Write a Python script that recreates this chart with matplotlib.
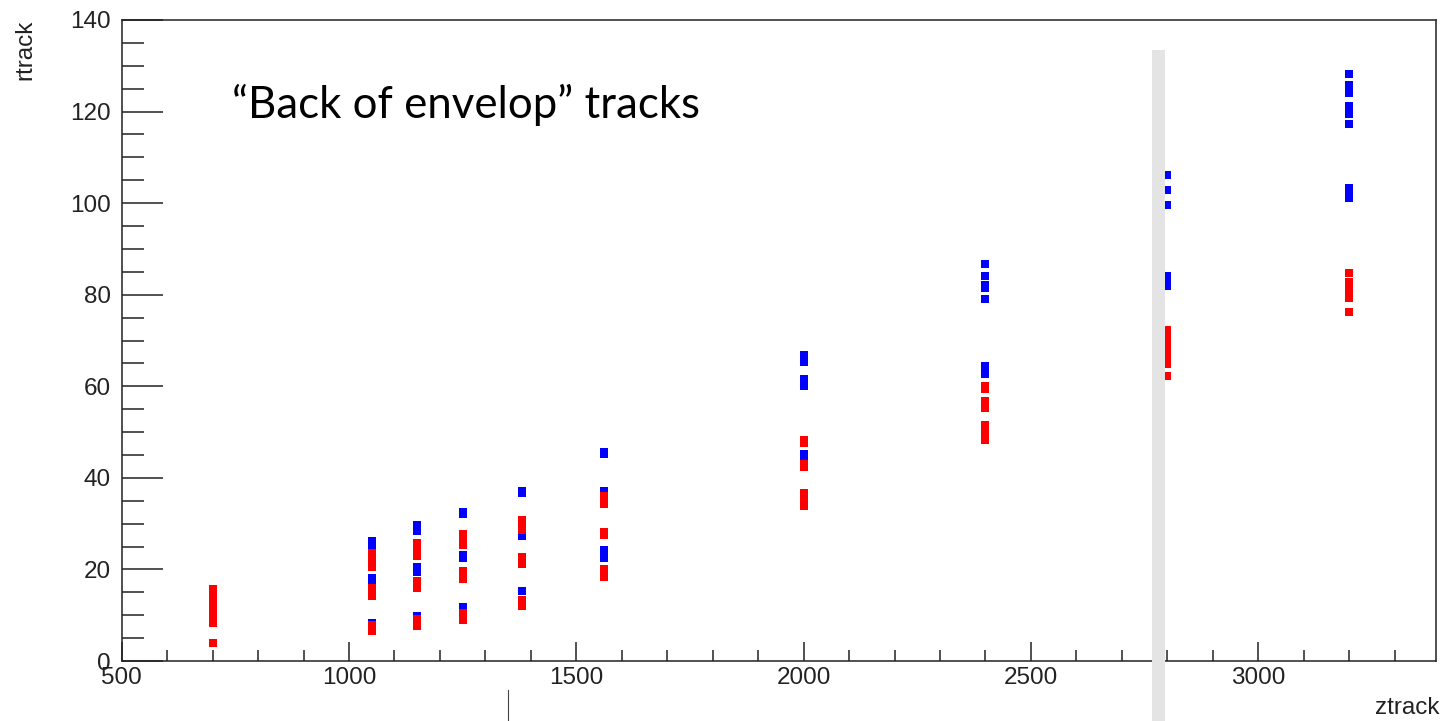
import matplotlib
matplotlib.use("Agg")
import matplotlib.pyplot as plt
from matplotlib.patches import Rectangle
from matplotlib.lines import Line2D
from matplotlib.ticker import MultipleLocator

# z positions of the track columns
z_cols = [700, 1050, 1150, 1250, 1380, 1560, 2000, 2400, 2800, 3200]

# r values per column (blue points)
blue_r = [
    [],
    [26.2, 25.1, 18.2, 17.5, 8.3],
    [29.7, 28.3, 20.5, 19.4, 9.8],
    [32.6, 32.0, 23.1, 22.4, 11.7],
    [37.2, 36.8, 27.2, 15.3],
    [45.6, 45.3, 37.2, 24.2, 23.2, 22.4],
    [66.8, 65.3, 61.6, 60.1, 45.2, 44.7],
    [86.6, 84.1, 82.2, 81.4, 79.1, 64.5, 63.5, 62.7],
    [106.1, 102.8, 99.6, 84.0, 83.0, 81.9],
    [128.3, 125.7, 125.0, 124.0, 121.3, 120.4, 119.5, 117.2, 103.2, 102.2, 101.1],
]

# r values per column (red points)
red_r = [
    [15.7, 14.5, 12.8, 11.2, 9.6, 8.2, 4.0],
    [23.5, 22.1, 20.6, 16.0, 14.3, 7.9, 6.5],
    [25.7, 24.3, 23.0, 17.5, 16.0, 9.1, 7.6],
    [27.8, 26.6, 25.4, 19.7, 17.9, 10.5, 9.0],
    [30.7, 29.5, 28.6, 22.7, 21.2, 13.4, 12.0],
    [36.0, 34.2, 28.2, 27.6, 20.0, 18.4],
    [48.2, 47.6, 43.1, 42.3, 36.7, 35.3, 33.9],
    [60.0, 59.4, 56.7, 55.2, 51.5, 50.1, 48.3],
    [72.2, 70.9, 69.4, 68.0, 66.6, 64.8, 62.2],
    [84.8, 82.8, 81.6, 80.3, 79.2, 76.3],
]

W, H = 1446, 721
fig = plt.figure(figsize=(W / 100, H / 100), dpi=100)
ax = fig.add_axes([121.7 / W, (H - 661) / H, (1436 - 121.7) / W, (661 - 20) / H])

zb = [z for z, rs in zip(z_cols, blue_r) for _ in rs]
rb = [r for rs in blue_r for r in rs]
zr = [z for z, rs in zip(z_cols, red_r) for _ in rs]
rr = [r for rs in red_r for r in rs]

ax.plot(zb, rb, ls='none', marker='s', ms=5.6, mew=0, color='#0000ff')
ax.plot(zr, rr, ls='none', marker='s', ms=5.6, mew=0, color='#ff0000')

ax.set_xlim(500, 3391)
ax.set_ylim(0, 140)

ax.xaxis.set_major_locator(MultipleLocator(500))
ax.xaxis.set_minor_locator(MultipleLocator(100))
ax.yaxis.set_major_locator(MultipleLocator(20))
ax.yaxis.set_minor_locator(MultipleLocator(5))

for s in ax.spines.values():
    s.set_linewidth(1.1)
    s.set_color('#222222')

lab_font = 'Liberation Sans'
ax.tick_params(axis='y', which='major', direction='in', length=29.5, width=1.1,
               pad=8, labelsize=17.5, colors='#222222')
ax.tick_params(axis='y', which='minor', direction='in', length=15.8, width=1.1,
               colors='#222222')
ax.tick_params(axis='x', which='major', direction='in', length=13.7, width=1.1,
               pad=4, labelsize=17.5, colors='#222222')
ax.tick_params(axis='x', which='minor', direction='in', length=7.9, width=1.1,
               colors='#222222')
for lbl in ax.get_xticklabels() + ax.get_yticklabels():
    lbl.set_fontfamily(lab_font)

# axis titles, ROOT style
fig.text(25 / W, (H - 20) / H, 'rtrack', rotation=90, ha='center', va='top',
         fontsize=17.5, family=lab_font, color='#222222')
fig.text(1440 / W, 7 / H, 'ztrack', ha='right', va='baseline',
         fontsize=17.5, family=lab_font, color='#222222')

ax.text(0.084, 0.847, '\u201cBack of envelop\u201d tracks', transform=ax.transAxes,
        ha='left', va='baseline', fontsize=31.5, family='Lato', color='black')

# grey strip and stray mark from the original screenshot
fig.patches.append(Rectangle((1152 / W, 0), 13 / W, (H - 50) / H,
                             transform=fig.transFigure, facecolor='#e4e4e4',
                             edgecolor='none', zorder=10))
fig.lines.append(Line2D([508 / W, 508 / W], [0, 31 / H], transform=fig.transFigure,
                        color='#444444', lw=0.8))

fig.savefig('out.png', dpi=100, facecolor='white')
